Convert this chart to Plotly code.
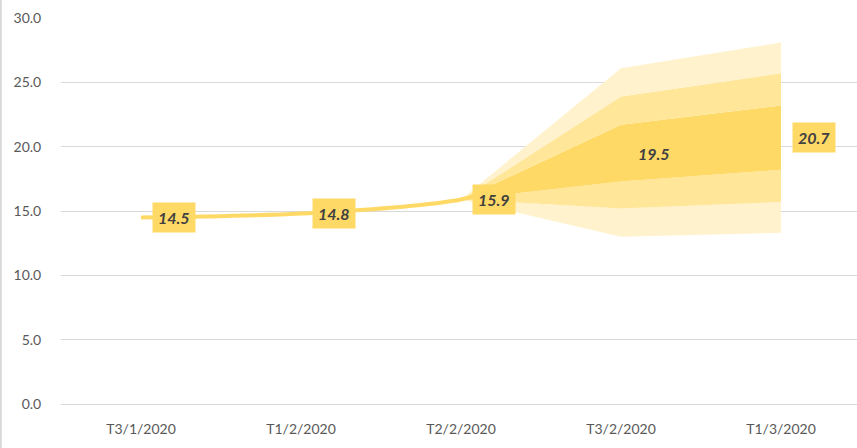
import plotly.graph_objects as go

categories = ["T3/1/2020", "T1/2/2020", "T2/2/2020", "T3/2/2020", "T1/3/2020"]
central = [14.5, 14.8, 15.9, 19.5, 20.7]

# fan bands (start at T2/2/2020)
fan_categories = ["T2/2/2020", "T3/2/2020", "T1/3/2020"]
outer_low = [15.9, 13.0, 13.3]
mid_low = [15.9, 15.2, 15.7]
inner_low = [15.9, 17.3, 18.2]
inner_high = [15.9, 21.7, 23.2]
mid_high = [15.9, 23.9, 25.7]
outer_high = [15.9, 26.1, 28.1]

c_outer = "#FFF2CC"
c_mid = "#FFE699"
c_inner = "#FFD966"

xi = {c: i for i, c in enumerate(categories)}
fx = [xi[c] for c in fan_categories]
lx = list(range(len(categories)))

fig = go.Figure()
bands = [
    (outer_low, None, None),
    (mid_low, "tonexty", c_outer),
    (inner_low, "tonexty", c_mid),
    (inner_high, "tonexty", c_inner),
    (mid_high, "tonexty", c_mid),
    (outer_high, "tonexty", c_outer),
]
for vals, fill, col in bands:
    fig.add_trace(go.Scatter(
        x=fx, y=vals, mode="lines", line=dict(width=0, color="rgba(0,0,0,0)"),
        fill=fill, fillcolor=col, showlegend=False, hoverinfo="skip"))

fig.add_trace(go.Scatter(
    x=lx, y=central, mode="lines",
    line=dict(color="#FFD966", width=4, shape="spline", smoothing=0.8),
    showlegend=False))

for i, v in enumerate(central):
    fig.add_annotation(
        x=i, y=v, xref="x", yref="y", text=f"<b><i>{v:.1f}</i></b>",
        showarrow=False, xanchor="left", yanchor="middle", xshift=11,
        bgcolor="#FFD966", borderpad=5,
        font=dict(family="Lato", size=16, color="#404040"))

W, H = 857, 448
L, T, B = 61, 18, 44
fig.update_layout(
    width=W, height=H,
    margin=dict(l=L, r=0, t=T, b=B, autoexpand=False),
    paper_bgcolor="white", plot_bgcolor="white",
    xaxis=dict(
        range=[-0.5, -0.5 + (W - L) / 160.0],
        tickmode="array", tickvals=lx, ticktext=categories,
        showgrid=False, zeroline=False, showline=False,
        tickfont=dict(family="Lato", size=14, color="#595959"),
        ticks="outside", ticklen=12, tickcolor="white",
        automargin=False,
    ),
    yaxis=dict(
        range=[0, 30], tickmode="array", tickvals=[0, 5, 10, 15, 20, 25, 30],
        ticktext=["0.0", "5.0", "10.0", "15.0", "20.0", "25.0", "30.0"],
        showgrid=True, gridcolor="#D9D9D9", gridwidth=1,
        zeroline=True, zerolinecolor="#D9D9D9", zerolinewidth=1,
        showline=False,
        tickfont=dict(family="Lato", size=14, color="#595959"),
        ticks="outside", ticklen=16, tickcolor="white",
        automargin=False,
    ),
)
fig.add_shape(type="line", xref="paper", yref="paper",
              x0=-L / (W - L) + 0.001, x1=-L / (W - L) + 0.001, y0=-B / (H - T - B), y1=1 + T / (H - T - B),
              line=dict(color="#D9D9D9", width=2))

fig.write_html("out.html", config={"displayModeBar": False},
               post_script="document.body.style.margin='0';document.body.style.padding='0';")
